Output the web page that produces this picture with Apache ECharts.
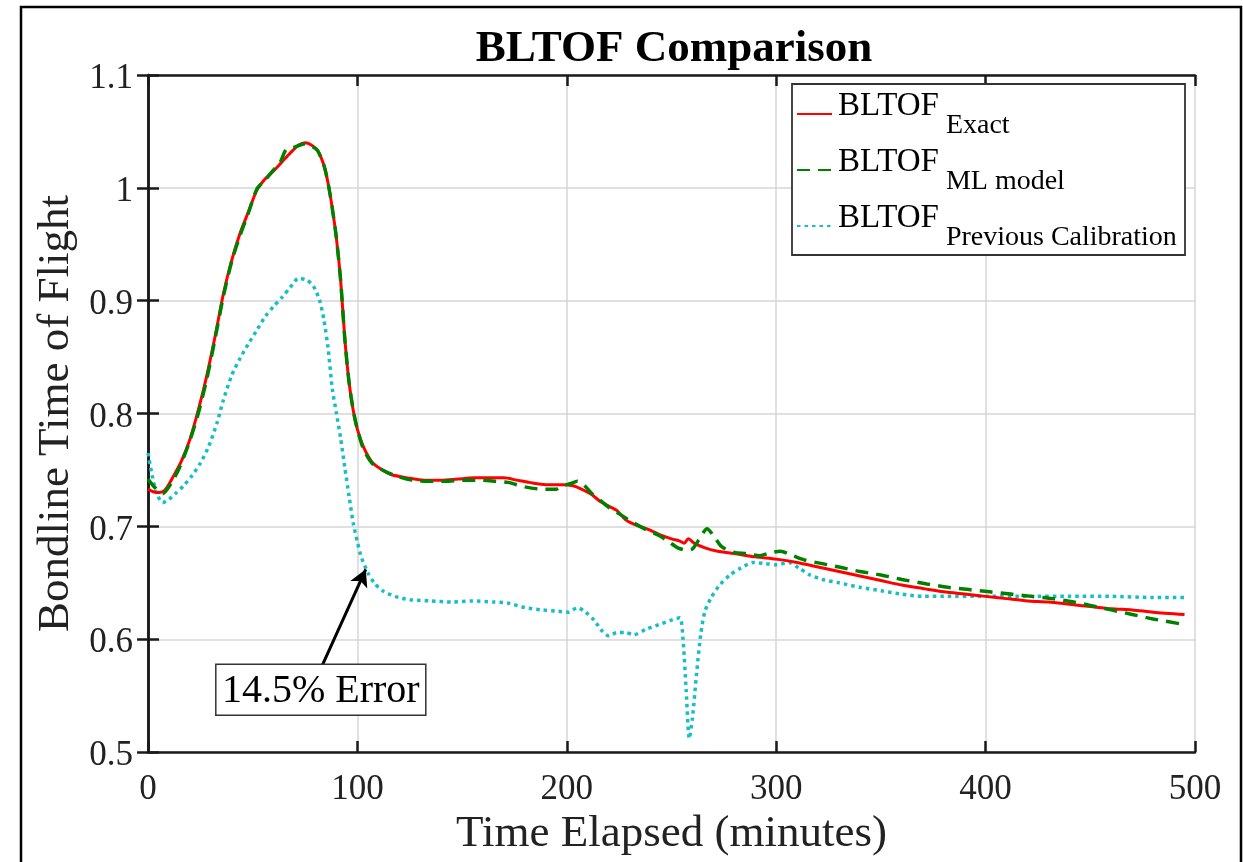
<!DOCTYPE html>
<html>
<head>
<meta charset="UTF-8">
<title>BLTOF Comparison</title>
<script src="https://cdn.jsdelivr.net/npm/echarts@6/dist/echarts.min.js"></script>
<style>
    html,body{margin:0;padding:0;background:#fff;}
    #chart{width:1243px;height:862px;}
</style>
</head>
<body>
<div id="chart"></div>
<script>
// BLTOF exact
var exactX = [0,4,8,12,16,20,24,28,32,36,40,44,48,52,56,60,64,68,72,75,78,81,84,86,88,90,92,94,96,98,100,103,107,111,116,124,132,140,148,156,164,170,176,182,190,198,203,207,212,216,220,224,228,232,238,244,250,254,256,258,261,266,272,280,290,300,310,320,330,340,350,360,370,380,390,400,410,420,430,440,450,460,470,480,495];
var exactY = [0.733,0.730,0.732,0.744,0.758,0.777,0.803,0.833,0.868,0.906,0.936,0.960,0.979,0.998,1.008,1.015,1.023,1.031,1.038,1.040,1.038,1.033,1.020,1.004,0.982,0.955,0.918,0.866,0.828,0.803,0.786,0.770,0.757,0.751,0.746,0.743,0.741,0.741,0.742,0.743,0.743,0.743,0.741,0.739,0.737,0.737,0.736,0.733,0.728,0.722,0.718,0.714,0.706,0.702,0.698,0.693,0.689,0.687,0.685,0.689,0.685,0.681,0.678,0.676,0.673,0.671,0.668,0.664,0.660,0.656,0.652,0.648,0.645,0.642,0.640,0.638,0.636,0.634,0.633,0.631,0.629,0.627,0.626,0.624,0.622];

// BLTOF ML model
var mlX = [0,3,7,11,15,20,24,28,32,36,40,44,48,52,56,60,63,66,70,75,78,81,84,86,88,90,92,94,96,98,100,103,107,112,118,126,134,142,150,158,166,172,180,188,195,198,202,205,208,212,216,220,226,232,238,244,249,253,257,260,263,267,270,274,280,286,292,296,302,308,314,322,330,340,350,360,372,382,392,402,412,422,432,442,450,460,470,480,495];
var mlY = [0.742,0.735,0.729,0.738,0.752,0.776,0.800,0.830,0.866,0.904,0.935,0.958,0.978,0.999,1.007,1.016,1.022,1.034,1.036,1.039,1.037,1.033,1.020,1.004,0.982,0.955,0.918,0.866,0.828,0.803,0.786,0.768,0.756,0.750,0.745,0.741,0.740,0.740,0.741,0.741,0.740,0.739,0.735,0.733,0.733,0.736,0.738,0.740,0.737,0.729,0.723,0.717,0.710,0.703,0.697,0.692,0.686,0.681,0.679,0.680,0.688,0.698,0.692,0.682,0.677,0.676,0.674,0.676,0.678,0.674,0.670,0.667,0.664,0.660,0.657,0.653,0.649,0.646,0.644,0.642,0.640,0.638,0.636,0.633,0.630,0.626,0.622,0.618,0.613];

// BLTOF previous calibration
var calX = [0,2,4,7,10,13,17,21,25,29,33,36,40,44,48,52,56,60,64,68,72,76,79,82,84,86,88,90,92,94,96,98,100,102,105,108,112,118,125,135,145,155,165,172,180,188,195,201,205,209,213,217,220,224,228,232,238,244,250,254,255.5,257,258.5,260,262,264,266,269,273,278,283,289,295,300,306,311,316,322,330,340,350,360,370,380,400,420,440,460,480,495];
var calY = [0.765,0.745,0.730,0.721,0.724,0.729,0.736,0.745,0.756,0.771,0.792,0.812,0.834,0.849,0.862,0.874,0.886,0.895,0.903,0.912,0.920,0.918,0.913,0.900,0.883,0.858,0.822,0.800,0.778,0.752,0.727,0.703,0.686,0.672,0.659,0.650,0.643,0.638,0.635,0.634,0.633,0.634,0.633,0.632,0.628,0.626,0.625,0.624,0.628,0.624,0.617,0.607,0.603,0.606,0.606,0.604,0.609,0.613,0.617,0.619,0.600,0.555,0.512,0.530,0.570,0.605,0.625,0.637,0.648,0.657,0.663,0.668,0.667,0.666,0.668,0.663,0.657,0.653,0.650,0.646,0.643,0.640,0.638,0.638,0.638,0.638,0.638,0.638,0.637,0.637];

var xTicks = [0, 100, 200, 300, 400, 500];
var yTicks = [0.5, 0.6, 0.7, 0.8, 0.9, 1.0, 1.1];

// annotation: arrow tail / tip and text
var arrowFrom = [83, 0.576];
var arrowTo = [104, 0.662];
var noteText = '14.5% Error';

function pairs(xs, ys) {
    var out = [];
    for (var i = 0; i < xs.length; i++) out.push([xs[i], ys[i]]);
    return out;
}

var FONT = '"Liberation Serif", "Times New Roman", serif';
var chart = echarts.init(document.getElementById('chart'));

var legendRich = {
    m: { fontFamily: FONT, fontSize: 33, color: '#000', lineHeight: 52, verticalAlign: 'top', padding: [2, 0, 0, 0] },
    s: { fontFamily: FONT, fontSize: 28, color: '#000', lineHeight: 52, verticalAlign: 'bottom', padding: [0, 0, 0, 7] }
};
var subs = {
    'BLTOF Exact': 'Exact',
    'BLTOF ML model': 'ML model',
    'BLTOF Previous Calibration': 'Previous Calibration'
};

var axisLine = { show: true, lineStyle: { color: '#1a1a1a', width: 2.5 } };
var axisTick = { inside: true, length: 11, lineStyle: { color: '#1a1a1a', width: 2.5 } };

var option = {
    animation: false,
    backgroundColor: '#fff',
    title: {
        text: 'BLTOF Comparison',
        left: 669,
        textAlign: 'center',
        top: 22,
        textStyle: { fontFamily: FONT, fontWeight: 'bold', fontSize: 45, color: '#000' }
    },
    grid: { left: 148, top: 75, right: 48, bottom: 109, containLabel: false },
    legend: {
        orient: 'vertical',
        left: 796,
        top: 88,
        padding: 0,
        itemGap: 4,
        itemWidth: 35,
        itemHeight: 14,
        z: 10,
        selectedMode: false,
        itemStyle: { opacity: 0 },
        data: ['BLTOF Exact', 'BLTOF ML model', 'BLTOF Previous Calibration'],
        formatter: function (name) {
            return '{m|BLTOF}{s|' + subs[name] + '}';
        },
        textStyle: { rich: legendRich, padding: [0, 0, 0, 1] }
    },
    xAxis: [
        {
            type: 'value', min: 0, max: 500, interval: 100,
            name: 'Time Elapsed (minutes)', nameLocation: 'middle', nameGap: 56,
            nameTextStyle: { fontFamily: FONT, fontSize: 45, color: '#222' },
            axisLine: axisLine, axisTick: axisTick,
            axisLabel: { fontFamily: FONT, fontSize: 35, color: '#222', margin: 20,
                formatter: function (v) { return xTicks.indexOf(v) >= 0 ? String(v) : ''; } },
            splitLine: { show: true, lineStyle: { color: '#d6d6d6', width: 1.5 } }
        },
        {
            type: 'value', min: 0, max: 500, interval: 100, position: 'top',
            axisLine: axisLine, axisTick: axisTick,
            axisLabel: { show: false }, splitLine: { show: false }
        }
    ],
    yAxis: [
        {
            type: 'value', min: 0.5, max: 1.1, interval: 0.1,
            name: 'Bondline Time of Flight', nameLocation: 'middle', nameGap: 67,
            nameTextStyle: { fontFamily: FONT, fontSize: 45, color: '#222' },
            axisLine: axisLine, axisTick: axisTick,
            axisLabel: { margin: 15,
                formatter: function (v) { return '{t|' + parseFloat(v.toFixed(1)) + '}'; },
                rich: { t: { fontFamily: FONT, fontSize: 35, color: '#222', padding: [8, 0, 0, 0] } } },
            splitLine: { show: true, lineStyle: { color: '#d6d6d6', width: 1.5 } }
        },
        {
            type: 'value', min: 0.5, max: 1.1, interval: 0.1, position: 'right',
            axisLine: axisLine, axisTick: axisTick,
            axisLabel: { show: false }, splitLine: { show: false }
        }
    ],
    series: [
        {
            name: 'BLTOF Exact', type: 'line', showSymbol: false, symbol: 'none', smooth: 0.25,
            data: pairs(exactX, exactY), z: 4,
            lineStyle: { color: '#ff0000', width: 3 }, itemStyle: { color: '#ff0000' }
        },
        {
            name: 'BLTOF ML model', type: 'line', showSymbol: false, symbol: 'none', smooth: 0.25,
            data: pairs(mlX, mlY), z: 5,
            lineStyle: { color: '#008000', width: 3.5, type: [13, 8] }, itemStyle: { color: '#008000' }
        },
        {
            name: 'BLTOF Previous Calibration', type: 'line', showSymbol: false, symbol: 'none', smooth: 0.25,
            data: pairs(calX, calY), z: 3,
            lineStyle: { color: '#17bfc4', width: 3.5, type: [3.5, 4] }, itemStyle: { color: '#17bfc4' },
            markLine: {
                silent: true, symbol: ['none', 'arrow'], symbolSize: [14, 17],
                label: { show: false },
                lineStyle: { color: '#000', width: 3, type: 'solid' },
                data: [[{ coord: arrowFrom }, { coord: arrowTo }]]
            }
        }
    ]
};
chart.setOption(option);

// frame, legend box and note box
var tail = chart.convertToPixel({ xAxisIndex: 0, yAxisIndex: 0 }, arrowFrom);
chart.setOption({
    graphic: [
        { type: 'rect', z: 100, silent: true,
          shape: { x: 21, y: 7, width: 1220, height: 880 },
          style: { fill: 'none', stroke: '#000', lineWidth: 2.5 } },
        { type: 'rect', z: 2, silent: true,
          shape: { x: 792, y: 84, width: 393, height: 171 },
          style: { fill: '#fff', stroke: '#333', lineWidth: 1.8 } },
        { type: 'rect', z: 6, silent: true,
          shape: { x: tail[0] - 106, y: tail[1] - 2, width: 210, height: 51 },
          style: { fill: '#fff', stroke: '#333', lineWidth: 1.5 } },
        { type: 'text', z: 7, silent: true,
          x: tail[0] - 1, y: tail[1] + 25,
          style: { text: noteText, font: '40px ' + FONT, fill: '#000', align: 'center', verticalAlign: 'middle' } }
    ]
});

window.onresize = function () { chart.resize(); };
</script>
</body>
</html>
